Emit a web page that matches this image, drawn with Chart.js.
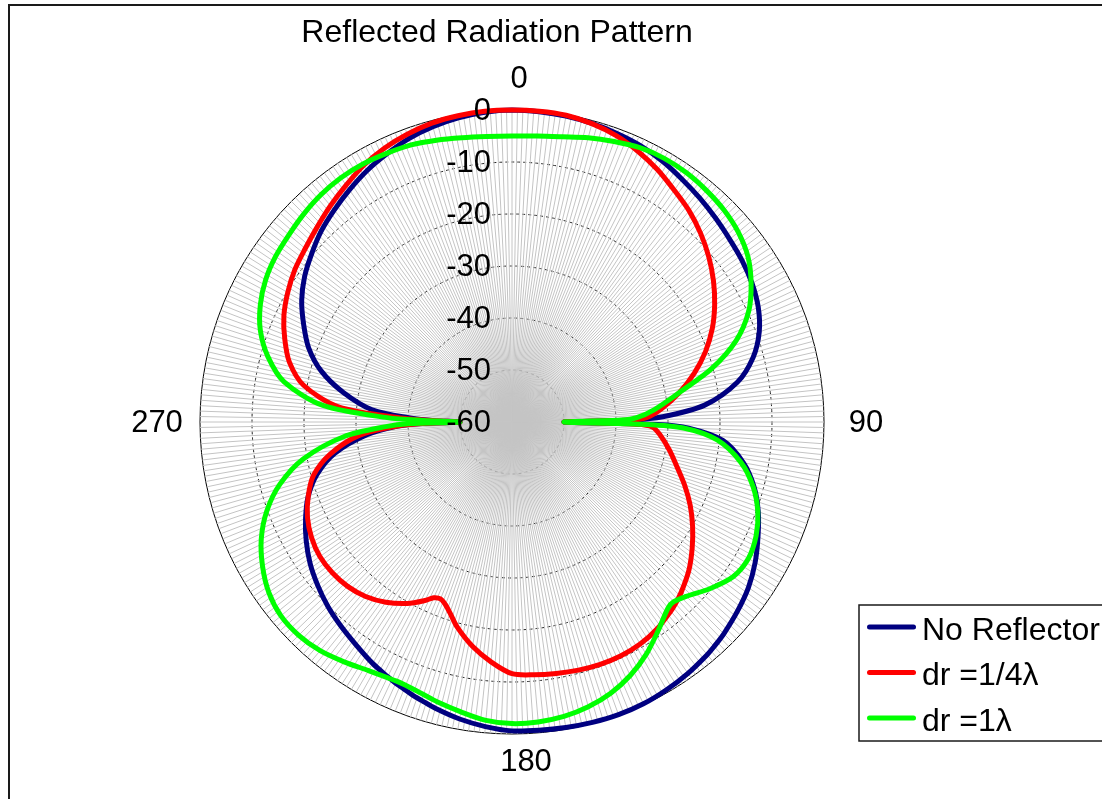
<!DOCTYPE html>
<html>
<head>
<meta charset="utf-8">
<title>Reflected Radiation Pattern</title>
<script src="https://cdn.jsdelivr.net/npm/chart.js@4.4.1/dist/chart.umd.min.js"></script>
<style>
    html, body { margin: 0; padding: 0; background: #ffffff; }
    #wrap { width: 1102px; height: 799px; }
</style>
</head>
<body>
<div id="wrap"><canvas id="patternChart" width="1102" height="799"></canvas></div>
<script>
// Sample angles in degrees, clockwise from 0 at the top
const angles = [
    0, 5, 10, 15, 20, 25, 30, 35, 40, 45, 50, 55, 60, 65, 70, 75, 80, 85, 88, 89,
    90, 91, 92, 95, 100, 105, 110, 115, 120, 125, 130, 135, 138, 140, 145, 150, 155, 160, 165, 170,
    175, 180, 185, 190, 195, 198, 200, 202, 204, 206, 210, 215, 220, 225, 230, 235, 240, 245, 250, 255,
    260, 265, 268, 269, 270, 271, 272, 275, 280, 285, 290, 295, 300, 305, 310, 315, 320, 325, 330, 335,
    340, 345, 350, 355
];

// Gain in dB at each angle above
const noReflector = [
    0, -0.1, -0.25, -0.55, -0.95, -1.4, -2.1, -3.0, -3.8, -4.6, -5.35, -5.95, -6.7, -7.75, -9.4, -12.0, -16.0, -22.8, -31, -37,
    -50, -32, -26, -19.3, -14.8, -11.8, -9.6, -7.8, -6.0, -4.5, -3.4, -2.4, -1.9, -1.6, -1.0, -0.55, -0.2, -0.1, -0.2, -0.35,
    -0.5, -0.6, -1.2, -2.0, -3.0, -3.7, -4.1, -4.6, -5.0, -5.5, -6.4, -7.7, -8.8, -9.9, -11.2, -12.6, -14.3, -16.2, -18.3, -21.2,
    -25.4, -32, -38, -42, -50, -45, -41, -33, -27, -22, -18.4, -15.8, -13.3, -11.3, -9.7, -8.1, -6.8, -5.5, -4.2, -3.1,
    -2.0, -1.2, -0.6, -0.2
];

const drQuarter = [
    0, 0, -0.1, -0.6, -1.4, -2.6, -4.0, -5.6, -7.0, -8.7, -10.6, -12.7, -15.0, -17.5, -20.4, -23.7, -27.3, -31.2, -34, -37,
    -50, -36, -33, -31.4, -29.3, -27.2, -24.7, -22.2, -19.9, -17.7, -15.6, -13.9, -13.0, -12.5, -11.4, -10.7, -10.4, -10.4, -10.6, -10.9,
    -11.2, -11.6, -13.7, -16.2, -19.2, -21.4, -22.6, -23.3, -23.0, -21.8, -19.7, -17.7, -16.2, -15.3, -14.9, -14.9, -15.5, -16.6, -18.3, -20.5,
    -24.5, -30.5, -38, -42, -50, -45, -39, -26.5, -19.3, -15.7, -13.5, -11.6, -10.2, -9.0, -8.1, -7.0, -5.7, -4.4, -3.0, -1.9,
    -1.1, -0.5, -0.2, 0
];

const drOne = [
    -5.0, -4.8, -4.3, -3.4, -2.6, -1.8, -1.45, -1.5, -1.85, -2.35, -3.2, -4.6, -6.9, -9.8, -14.1, -20.2, -27.3, -32.5, -36, -39,
    -50, -35, -27, -20.4, -15.3, -12.0, -9.7, -8.2, -7.5, -8.1, -10.2, -12.6, -13.5, -13.3, -11.0, -8.4, -6.2, -4.5, -3.3, -2.5,
    -2.1, -2.0, -2.4, -3.4, -4.3, -4.9, -5.2, -5.4, -5.45, -5.3, -4.8, -3.7, -2.6, -2.0, -2.0, -2.9, -4.6, -6.8, -9.8, -13.8,
    -19.3, -27.5, -36, -40, -50, -43, -36, -23.5, -15.5, -11.4, -8.5, -6.6, -5.3, -4.5, -4.0, -3.4, -2.9, -2.65, -2.7, -3.0,
    -3.3, -3.9, -4.5, -4.9
];

const radialTicks = [0, -10, -20, -30, -40, -50, -60];
const angleTicks = ['0', '90', '180', '270'];
const seriesNames = ['No Reflector', 'dr =1/4\u03bb', 'dr =1\u03bb'];
const seriesColors = ['#000080', '#ff0000', '#00ff00'];

const FONT = '"Liberation Sans", Arial, Helvetica, sans-serif';

// one radar label per degree, so there is a spoke for every degree
const degreeLabels = [];
for (let d = 0; d < 360; d++) degreeLabels.push(String(d));

// spread the samples onto the 360 spokes, other spokes stay empty
function toSpokes(values) {
    const spokes = new Array(360).fill(null);
    angles.forEach((a, i) => { spokes[a] = values[i]; });
    return spokes;
}

function makeDataset(label, values, color, order) {
    return {
        label: label,
        data: toSpokes(values),
        borderColor: color,
        backgroundColor: color,
        borderWidth: 5,
        borderJoinStyle: 'round',
        borderCapStyle: 'round',
        pointRadius: 0,
        pointHoverRadius: 0,
        fill: false,
        tension: 0.3,
        spanGaps: true,
        order: order
    };
}

// title, frame, radial/angle labels and legend box drawn over the chart
const decorations = {
    id: 'decorations',
    afterDraw(chart) {
        const ctx = chart.ctx;
        const scale = chart.scales.r;
        ctx.save();

        // frame around the plot
        ctx.strokeStyle = '#1a1a1a';
        ctx.lineWidth = 2;
        ctx.strokeRect(9, 5, 1200, 900);

        ctx.fillStyle = '#000000';
        ctx.font = '32px ' + FONT;
        ctx.textAlign = 'center';
        ctx.textBaseline = 'alphabetic';
        ctx.fillText('Reflected Radiation Pattern', 497, 42);

        // dB labels along the 0 degree spoke, right aligned
        ctx.font = '31px ' + FONT;
        ctx.textAlign = 'right';
        ctx.textBaseline = 'middle';
        radialTicks.forEach(v => {
            const y = scale.yCenter - scale.getDistanceFromCenterForValue(v);
            ctx.fillText(String(v), scale.xCenter - 21, y + 1);
        });

        // angle labels outside the rim
        const nudge = {'0': [7, 0], '90': [11, 1], '180': [14, -3], '270': [-12, 1]};
        ctx.textAlign = 'center';
        angleTicks.forEach(t => {
            const p = scale.getPointPosition(Number(t), scale.drawingArea + 31);
            ctx.fillText(t, p.x + nudge[t][0], p.y + nudge[t][1]);
        });

        // legend box
        ctx.strokeStyle = '#1a1a1a';
        ctx.lineWidth = 1.5;
        ctx.strokeRect(859, 605, 300, 136);
        ctx.font = '32px ' + FONT;
        ctx.textAlign = 'left';
        ctx.textBaseline = 'alphabetic';
        ctx.lineCap = 'round';
        seriesNames.forEach((name, i) => {
            const y = 627 + i * 45.5;
            ctx.strokeStyle = seriesColors[i];
            ctx.lineWidth = 5;
            ctx.beginPath();
            ctx.moveTo(869.5, y);
            ctx.lineTo(913.5, y);
            ctx.stroke();
            ctx.fillText(name, 922, y + 12.5);
        });

        ctx.restore();
    }
};

new Chart(document.getElementById('patternChart'), {
    type: 'radar',
    data: {
        labels: degreeLabels,
        datasets: [
            makeDataset(seriesNames[0], noReflector, seriesColors[0], 3),
            makeDataset(seriesNames[1], drQuarter, seriesColors[1], 2),
            makeDataset(seriesNames[2], drOne, seriesColors[2], 1)
        ]
    },
    plugins: [decorations],
    options: {
        responsive: false,
        animation: false,
        devicePixelRatio: 1,
        layout: {
            padding: { left: 200, right: 278, top: 110, bottom: 65 }
        },
        plugins: {
            legend: { display: false },
            title: { display: false },
            tooltip: { enabled: false }
        },
        scales: {
            r: {
                min: -60,
                max: 0,
                startAngle: 0,
                ticks: { display: false, stepSize: 10 },
                pointLabels: { display: false },
                angleLines: { display: true, color: '#c4c4c4', lineWidth: 1 },
                grid: {
                    circular: true,
                    lineWidth: 1,
                    color: ctx => ctx.tick && ctx.tick.value === 0 ? '#000000' : '#222222'
                },
                border: {
                    dash: ctx => ctx.tick && ctx.tick.value === 0 ? [] : [3, 3]
                }
            }
        }
    }
});
</script>
</body>
</html>
